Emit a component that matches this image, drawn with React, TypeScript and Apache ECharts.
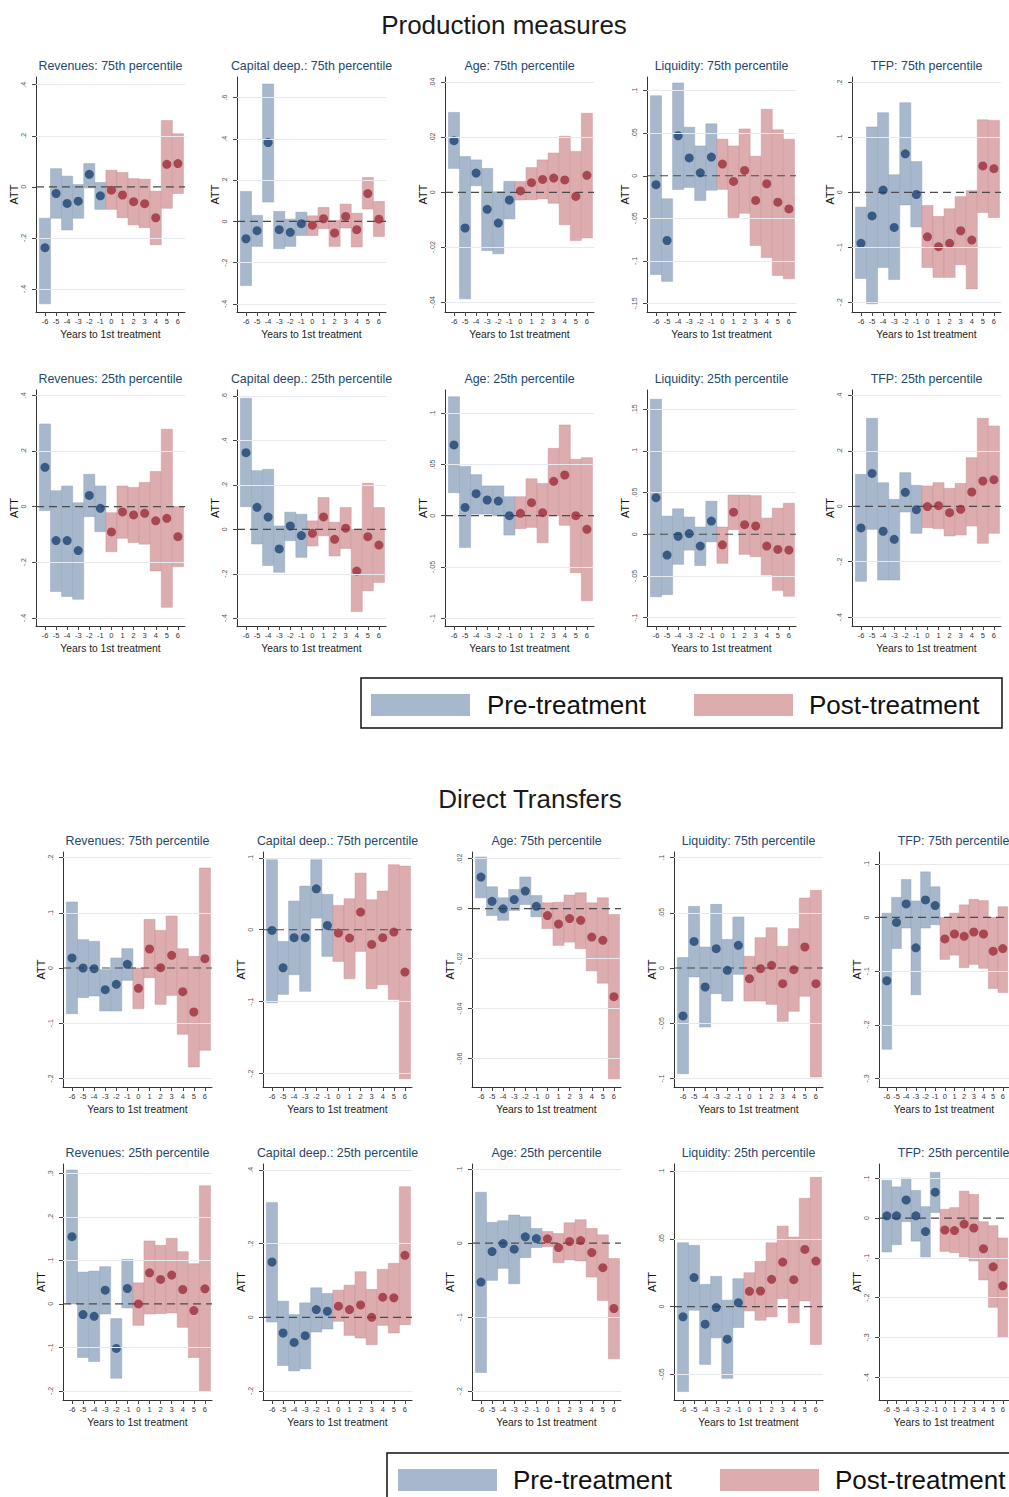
import React, { useEffect, useRef } from "react";
import * as echarts from "echarts";

// ---------- data ----------
const YEARS = [-6, -5, -4, -3, -2, -1, 0, 1, 2, 3, 4, 5, 6];

// Production measures
const PM_REV75_EST = [-0.238, -0.026, -0.065, -0.056, 0.049, -0.035, -0.013, -0.032, -0.058, -0.066, -0.121, 0.088, 0.091];
const PM_REV75_LO = [-0.458, -0.123, -0.169, -0.123, -0.004, -0.088, -0.088, -0.121, -0.149, -0.16, -0.227, -0.084, -0.026];
const PM_REV75_HI = [-0.123, 0.071, 0.042, 0.009, 0.091, 0.017, 0.065, 0.056, 0.032, 0.03, -0.017, 0.26, 0.208];
const PM_REV75_TICKS = [-0.4, -0.2, 0, 0.2, 0.4];
const PM_REV75_RANGE = [-0.49, 0.43];

const PM_CAP75_EST = [-0.084, -0.045, 0.382, -0.04, -0.053, -0.011, -0.018, 0.013, -0.056, 0.024, -0.04, 0.135, 0.011];
const PM_CAP75_LO = [-0.311, -0.121, 0.094, -0.132, -0.121, -0.068, -0.068, -0.035, -0.121, -0.032, -0.124, 0.06, -0.073];
const PM_CAP75_HI = [0.145, 0.029, 0.666, 0.048, 0.011, 0.045, 0.027, 0.068, 0.005, 0.084, 0.04, 0.213, 0.097];
const PM_CAP75_TICKS = [-0.4, -0.2, 0, 0.2, 0.4, 0.6];
const PM_CAP75_RANGE = [-0.439, 0.7];

const PM_AGE75_EST = [0.0188, -0.013, 0.007, -0.0062, -0.0112, -0.0028, 0.0005, 0.0035, 0.0047, 0.0052, 0.0045, -0.0015, 0.0062];
const PM_AGE75_LO = [0.0087, -0.0388, 0.0024, -0.0212, -0.0224, -0.0097, -0.0028, -0.0027, -0.0024, -0.004, -0.0118, -0.0176, -0.0166];
const PM_AGE75_HI = [0.0291, 0.013, 0.0118, 0.0087, 0.0002, 0.004, 0.0039, 0.009, 0.0118, 0.0143, 0.0204, 0.0149, 0.0288];
const PM_AGE75_TICKS = [-0.04, -0.02, 0, 0.02, 0.04];
const PM_AGE75_RANGE = [-0.0436, 0.042];

const PM_LIQ75_EST = [-0.0105, -0.076, 0.047, 0.021, 0.0035, 0.022, 0.0137, -0.0066, 0.0063, -0.029, -0.0094, -0.031, -0.039];
const PM_LIQ75_LO = [-0.116, -0.124, -0.016, -0.0137, -0.029, -0.017, -0.016, -0.049, -0.044, -0.082, -0.096, -0.117, -0.121];
const PM_LIQ75_HI = [0.094, -0.027, 0.109, 0.057, 0.035, 0.061, 0.043, 0.035, 0.055, 0.023, 0.078, 0.054, 0.043];
const PM_LIQ75_TICKS = [-0.15, -0.1, -0.05, 0, 0.05, 0.1];
const PM_LIQ75_RANGE = [-0.16, 0.116];

const PM_TFP75_EST = [-0.093, -0.043, 0.004, -0.064, 0.07, -0.004, -0.081, -0.099, -0.093, -0.07, -0.087, 0.048, 0.043];
const PM_TFP75_LO = [-0.157, -0.203, -0.137, -0.159, -0.023, -0.063, -0.137, -0.155, -0.155, -0.132, -0.176, -0.037, -0.046];
const PM_TFP75_HI = [-0.027, 0.119, 0.145, 0.032, 0.163, 0.056, -0.024, -0.044, -0.03, -0.008, 0.003, 0.132, 0.131];
const PM_TFP75_TICKS = [-0.2, -0.1, 0, 0.1, 0.2];
const PM_TFP75_RANGE = [-0.218, 0.21];

const PM_REV25_EST = [0.141, -0.122, -0.122, -0.158, 0.04, -0.006, -0.091, -0.019, -0.03, -0.024, -0.051, -0.042, -0.108];
const PM_REV25_LO = [-0.014, -0.305, -0.323, -0.333, -0.036, -0.09, -0.162, -0.114, -0.129, -0.135, -0.231, -0.362, -0.216];
const PM_REV25_HI = [0.297, 0.057, 0.074, 0.014, 0.116, 0.074, -0.022, 0.074, 0.069, 0.087, 0.126, 0.278, 0.0];
const PM_REV25_TICKS = [-0.4, -0.2, 0, 0.2, 0.4];
const PM_REV25_RANGE = [-0.429, 0.419];

const PM_CAP25_EST = [0.345, 0.099, 0.055, -0.088, 0.015, -0.028, -0.018, 0.056, -0.045, 0.005, -0.188, -0.033, -0.071];
const PM_CAP25_LO = [0.102, -0.066, -0.163, -0.193, -0.051, -0.126, -0.075, -0.029, -0.12, -0.086, -0.37, -0.276, -0.239];
const PM_CAP25_HI = [0.59, 0.264, 0.27, 0.015, 0.077, 0.068, 0.038, 0.143, 0.032, 0.098, 0.0, 0.207, 0.098];
const PM_CAP25_TICKS = [-0.4, -0.2, 0, 0.2, 0.4, 0.6];
const PM_CAP25_RANGE = [-0.435, 0.627];

const PM_AGE25_EST = [0.069, 0.0081, 0.0215, 0.0153, 0.0143, 0.0, 0.0023, 0.0127, 0.0029, 0.0335, 0.0397, 0.0, -0.0133];
const PM_AGE25_LO = [0.0224, -0.031, 0.0016, 0.0016, 0.0, -0.0189, -0.0127, -0.0114, -0.0263, 0.0, -0.0094, -0.0556, -0.0829];
const PM_AGE25_HI = [0.116, 0.048, 0.04, 0.029, 0.029, 0.0185, 0.0185, 0.036, 0.0315, 0.0657, 0.0885, 0.055, 0.0566];
const PM_AGE25_TICKS = [-0.1, -0.05, 0, 0.05, 0.1];
const PM_AGE25_RANGE = [-0.1076, 0.1226];

const PM_LIQ25_EST = [0.0439, -0.0249, -0.0024, 0.0008, -0.0142, 0.0158, -0.0127, 0.0265, 0.0115, 0.0099, -0.0142, -0.0182, -0.019];
const PM_LIQ25_LO = [-0.075, -0.0724, -0.036, -0.019, -0.0376, -0.0091, -0.0348, 0.0055, -0.0241, -0.0269, -0.0487, -0.0672, -0.0744];
const PM_LIQ25_HI = [0.162, 0.0218, 0.0305, 0.0206, 0.0087, 0.0396, 0.0087, 0.047, 0.047, 0.0463, 0.0194, 0.0313, 0.0372];
const PM_LIQ25_TICKS = [-0.1, -0.05, 0, 0.05, 0.1, 0.15];
const PM_LIQ25_RANGE = [-0.11, 0.173];

const PM_TFP25_EST = [-0.078, 0.119, -0.09, -0.119, 0.0505, -0.012, -0.001, 0.0024, -0.0229, -0.0108, 0.0517, 0.0915, 0.0963];
const PM_TFP25_LO = [-0.2708, -0.083, -0.266, -0.266, -0.0205, -0.0975, -0.077, -0.0806, -0.107, -0.1035, -0.071, -0.1336, -0.0975];
const PM_TFP25_HI = [0.1155, 0.3177, 0.0854, 0.0253, 0.1215, 0.0758, 0.0734, 0.0854, 0.065, 0.083, 0.1757, 0.3177, 0.29];
const PM_TFP25_TICKS = [-0.4, -0.2, 0, 0.2, 0.4];
const PM_TFP25_RANGE = [-0.432, 0.42];

// Direct transfers
const DT_REV75_EST = [0.0181, 0.0, -0.0012, -0.0392, -0.0296, 0.0066, -0.0368, 0.0344, 0.0006, 0.0229, -0.0428, -0.0796, 0.0169];
const DT_REV75_LO = [-0.0827, -0.0537, -0.0507, -0.0778, -0.0778, -0.0223, -0.0736, -0.0175, -0.0658, -0.0495, -0.12, -0.1792, -0.149];
const DT_REV75_HI = [0.1195, 0.0513, 0.0483, -0.003, 0.0181, 0.035, 0.0, 0.0881, 0.0682, 0.0941, 0.035, 0.0211, 0.181];
const DT_REV75_TICKS = [-0.2, -0.1, 0, 0.1, 0.2];
const DT_REV75_RANGE = [-0.2154, 0.21];

const DT_CAP75_EST = [-0.0009, -0.0528, -0.0111, -0.0111, 0.0569, 0.006, -0.0046, -0.0116, 0.0245, -0.0204, -0.0111, -0.0032, -0.0588];
const DT_CAP75_LO = [-0.1014, -0.0898, -0.0625, -0.0856, 0.0162, -0.037, -0.044, -0.068, -0.0301, -0.0819, -0.0764, -0.0968, -0.207];
const DT_CAP75_HI = [0.0972, -0.0162, 0.0398, 0.0606, 0.0972, 0.0491, 0.0338, 0.043, 0.0787, 0.0417, 0.0537, 0.0903, 0.0884];
const DT_CAP75_TICKS = [-0.2, -0.1, 0, 0.1];
const DT_CAP75_RANGE = [-0.2185, 0.108];

const DT_AGE75_EST = [0.0126, 0.0029, -0.0001, 0.0036, 0.007, 0.0009, -0.0028, -0.0062, -0.004, -0.0047, -0.0114, -0.0127, -0.0352];
const DT_AGE75_LO = [0.0043, -0.0028, -0.0047, -0.0008, 0.0016, -0.0033, -0.008, -0.0147, -0.0134, -0.016, -0.0249, -0.0298, -0.068];
const DT_AGE75_HI = [0.0206, 0.0087, 0.0043, 0.0076, 0.0126, 0.0052, 0.0023, 0.0025, 0.0054, 0.0063, 0.0023, 0.0043, -0.0024];
const DT_AGE75_TICKS = [-0.06, -0.04, -0.02, 0, 0.02];
const DT_AGE75_RANGE = [-0.0713, 0.0226];

const DT_LIQ75_EST = [-0.0434, 0.0241, -0.0172, 0.0175, -0.0021, 0.0205, -0.0097, -0.0006, 0.0024, -0.0142, -0.0015, 0.019, -0.0142];
const DT_LIQ75_LO = [-0.0956, -0.0081, -0.0534, -0.0232, -0.0299, -0.0057, -0.0299, -0.0299, -0.0329, -0.0483, -0.0392, -0.0256, -0.0986];
const DT_LIQ75_HI = [0.0094, 0.0558, 0.019, 0.0576, 0.0259, 0.0462, 0.0106, 0.0275, 0.0365, 0.0196, 0.0356, 0.0633, 0.0703];
const DT_LIQ75_TICKS = [-0.1, -0.05, 0, 0.05, 0.1];
const DT_LIQ75_RANGE = [-0.1077, 0.105];

const DT_TFP75_EST = [-0.118, -0.0092, 0.0252, -0.0566, 0.0326, 0.0222, -0.04, -0.0308, -0.0351, -0.0271, -0.0308, -0.0628, -0.058];
const DT_TFP75_LO = [-0.2455, -0.0578, -0.0197, -0.144, -0.0197, -0.0135, -0.0782, -0.0702, -0.0935, -0.0874, -0.0948, -0.1323, -0.14];
const DT_TFP75_HI = [0.008, 0.0375, 0.0708, 0.0308, 0.0849, 0.0572, 0.0, 0.008, 0.0234, 0.0338, 0.0314, 0.0, 0.02];
const DT_TFP75_TICKS = [-0.3, -0.2, -0.1, 0, 0.1];
const DT_TFP75_RANGE = [-0.316, 0.122];

const DT_REV25_EST = [0.1546, -0.0246, -0.0285, 0.0315, -0.1023, 0.0354, 0.0, 0.0715, 0.0562, 0.0662, 0.0331, -0.0154, 0.0346];
const DT_REV25_LO = [0.0, -0.1231, -0.1323, -0.0231, -0.1708, -0.0092, -0.0492, -0.0231, -0.0223, -0.0208, -0.0538, -0.1231, -0.2015];
const DT_REV25_HI = [0.3077, 0.0731, 0.0754, 0.0854, -0.0338, 0.1023, 0.0485, 0.1446, 0.1346, 0.1508, 0.12, 0.0923, 0.2715];
const DT_REV25_TICKS = [-0.2, -0.1, 0, 0.1, 0.2, 0.3];
const DT_REV25_RANGE = [-0.2208, 0.3215];

const DT_CAP25_EST = [0.15, -0.0427, -0.0682, -0.05, 0.0209, 0.0164, 0.03, 0.0209, 0.0336, 0.0, 0.0545, 0.0527, 0.1682];
const DT_CAP25_LO = [-0.0127, -0.131, -0.1455, -0.14, -0.04, -0.0318, -0.0109, -0.0491, -0.0564, -0.0745, -0.0218, -0.0427, -0.02];
const DT_CAP25_HI = [0.3118, 0.0436, 0.0073, 0.039, 0.08, 0.0645, 0.0736, 0.0873, 0.1236, 0.0755, 0.13, 0.1464, 0.3545];
const DT_CAP25_TICKS = [-0.2, 0, 0.2, 0.4];
const DT_CAP25_RANGE = [-0.2245, 0.416];

const DT_AGE25_EST = [-0.0525, -0.0113, -0.0005, -0.0081, 0.0086, 0.0063, 0.0059, -0.0059, 0.0023, 0.0036, -0.0127, -0.033, -0.0882];
const DT_AGE25_LO = [-0.1747, -0.0502, -0.0339, -0.0548, -0.0195, -0.0059, -0.0045, -0.0262, -0.0226, -0.024, -0.0457, -0.0774, -0.1561];
const DT_AGE25_HI = [0.0688, 0.0281, 0.0303, 0.038, 0.0357, 0.0199, 0.0158, 0.0131, 0.0276, 0.0317, 0.0199, 0.0113, -0.0208];
const DT_AGE25_TICKS = [-0.2, -0.1, 0, 0.1];
const DT_AGE25_RANGE = [-0.2118, 0.107];

const DT_LIQ25_EST = [-0.0076, 0.0214, -0.013, -0.0007, -0.0241, 0.0029, 0.0113, 0.0115, 0.0201, 0.0329, 0.0199, 0.0422, 0.0336];
const DT_LIQ25_LO = [-0.0628, -0.0027, -0.0427, -0.0231, -0.053, -0.0155, -0.0032, -0.0101, -0.0076, 0.0059, -0.012, 0.0042, -0.028];
const DT_LIQ25_HI = [0.0471, 0.0452, 0.0164, 0.0223, 0.0047, 0.0206, 0.025, 0.0334, 0.0471, 0.0594, 0.0513, 0.08, 0.0955];
const DT_LIQ25_TICKS = [-0.05, 0, 0.05, 0.1];
const DT_LIQ25_RANGE = [-0.069, 0.1053];

const DT_TFP25_EST = [0.0058, 0.0058, 0.0455, 0.0058, -0.0339, 0.0653, -0.0298, -0.0314, -0.0149, -0.0248, -0.0769, -0.1223, -0.17];
const DT_TFP25_LO = [-0.0851, -0.0669, -0.0091, -0.0579, -0.0975, 0.014, -0.0835, -0.0868, -0.0975, -0.1074, -0.1554, -0.224, -0.3];
const DT_TFP25_HI = [0.095, 0.0785, 0.1008, 0.0694, 0.0289, 0.1149, 0.0223, 0.0264, 0.0678, 0.0595, -0.0091, -0.019, -0.05];
const DT_TFP25_TICKS = [-0.4, -0.3, -0.2, -0.1, 0, 0.1];
const DT_TFP25_RANGE = [-0.457, 0.136];

const SECTION_TITLES = ["Production measures", "Direct Transfers"];
const LEGEND_LABELS = ["Pre-treatment", "Post-treatment"];
const X_TITLE = "Years to 1st treatment";
const Y_TITLE = "ATT";

// ---------- panel list (section, row, col) ----------
const PANELS = [
  { s: 0, r: 0, c: 0, title: "Revenues: 75th percentile", est: PM_REV75_EST, lo: PM_REV75_LO, hi: PM_REV75_HI, ticks: PM_REV75_TICKS, range: PM_REV75_RANGE },
  { s: 0, r: 0, c: 1, title: "Capital deep.: 75th percentile", est: PM_CAP75_EST, lo: PM_CAP75_LO, hi: PM_CAP75_HI, ticks: PM_CAP75_TICKS, range: PM_CAP75_RANGE },
  { s: 0, r: 0, c: 2, title: "Age: 75th percentile", est: PM_AGE75_EST, lo: PM_AGE75_LO, hi: PM_AGE75_HI, ticks: PM_AGE75_TICKS, range: PM_AGE75_RANGE },
  { s: 0, r: 0, c: 3, title: "Liquidity: 75th percentile", est: PM_LIQ75_EST, lo: PM_LIQ75_LO, hi: PM_LIQ75_HI, ticks: PM_LIQ75_TICKS, range: PM_LIQ75_RANGE },
  { s: 0, r: 0, c: 4, title: "TFP: 75th percentile", est: PM_TFP75_EST, lo: PM_TFP75_LO, hi: PM_TFP75_HI, ticks: PM_TFP75_TICKS, range: PM_TFP75_RANGE },
  { s: 0, r: 1, c: 0, title: "Revenues: 25th percentile", est: PM_REV25_EST, lo: PM_REV25_LO, hi: PM_REV25_HI, ticks: PM_REV25_TICKS, range: PM_REV25_RANGE },
  { s: 0, r: 1, c: 1, title: "Capital deep.: 25th percentile", est: PM_CAP25_EST, lo: PM_CAP25_LO, hi: PM_CAP25_HI, ticks: PM_CAP25_TICKS, range: PM_CAP25_RANGE },
  { s: 0, r: 1, c: 2, title: "Age: 25th percentile", est: PM_AGE25_EST, lo: PM_AGE25_LO, hi: PM_AGE25_HI, ticks: PM_AGE25_TICKS, range: PM_AGE25_RANGE },
  { s: 0, r: 1, c: 3, title: "Liquidity: 25th percentile", est: PM_LIQ25_EST, lo: PM_LIQ25_LO, hi: PM_LIQ25_HI, ticks: PM_LIQ25_TICKS, range: PM_LIQ25_RANGE },
  { s: 0, r: 1, c: 4, title: "TFP: 25th percentile", est: PM_TFP25_EST, lo: PM_TFP25_LO, hi: PM_TFP25_HI, ticks: PM_TFP25_TICKS, range: PM_TFP25_RANGE },
  { s: 1, r: 0, c: 0, title: "Revenues: 75th percentile", est: DT_REV75_EST, lo: DT_REV75_LO, hi: DT_REV75_HI, ticks: DT_REV75_TICKS, range: DT_REV75_RANGE },
  { s: 1, r: 0, c: 1, title: "Capital deep.: 75th percentile", est: DT_CAP75_EST, lo: DT_CAP75_LO, hi: DT_CAP75_HI, ticks: DT_CAP75_TICKS, range: DT_CAP75_RANGE },
  { s: 1, r: 0, c: 2, title: "Age: 75th percentile", est: DT_AGE75_EST, lo: DT_AGE75_LO, hi: DT_AGE75_HI, ticks: DT_AGE75_TICKS, range: DT_AGE75_RANGE },
  { s: 1, r: 0, c: 3, title: "Liquidity: 75th percentile", est: DT_LIQ75_EST, lo: DT_LIQ75_LO, hi: DT_LIQ75_HI, ticks: DT_LIQ75_TICKS, range: DT_LIQ75_RANGE },
  { s: 1, r: 0, c: 4, title: "TFP: 75th percentile", est: DT_TFP75_EST, lo: DT_TFP75_LO, hi: DT_TFP75_HI, ticks: DT_TFP75_TICKS, range: DT_TFP75_RANGE },
  { s: 1, r: 1, c: 0, title: "Revenues: 25th percentile", est: DT_REV25_EST, lo: DT_REV25_LO, hi: DT_REV25_HI, ticks: DT_REV25_TICKS, range: DT_REV25_RANGE },
  { s: 1, r: 1, c: 1, title: "Capital deep.: 25th percentile", est: DT_CAP25_EST, lo: DT_CAP25_LO, hi: DT_CAP25_HI, ticks: DT_CAP25_TICKS, range: DT_CAP25_RANGE },
  { s: 1, r: 1, c: 2, title: "Age: 25th percentile", est: DT_AGE25_EST, lo: DT_AGE25_LO, hi: DT_AGE25_HI, ticks: DT_AGE25_TICKS, range: DT_AGE25_RANGE },
  { s: 1, r: 1, c: 3, title: "Liquidity: 25th percentile", est: DT_LIQ25_EST, lo: DT_LIQ25_LO, hi: DT_LIQ25_HI, ticks: DT_LIQ25_TICKS, range: DT_LIQ25_RANGE },
  { s: 1, r: 1, c: 4, title: "TFP: 25th percentile", est: DT_TFP25_EST, lo: DT_TFP25_LO, hi: DT_TFP25_HI, ticks: DT_TFP25_TICKS, range: DT_TFP25_RANGE },
];

// ---------- layout & style ----------
const COL_X = [
  [36, 237, 445, 647, 852],
  [63, 263, 472, 674, 879],
];
const ROW_TOP = [
  [77, 390],
  [852, 1164],
];
const ROW_BOTTOM = [
  [312, 626],
  [1087, 1400],
];
const PLOT_W = 149;
const X_MIN = -6.81;
const X_MAX = 6.64;

const FONT = "'Liberation Sans', Arial, Helvetica, sans-serif";
const PRE_BAR = "rgba(167,184,204,1)";
const POST_BAR = "rgba(220,172,175,1)";
const PRE_EDGE = "rgba(140,160,185,0.9)";
const POST_EDGE = "rgba(200,145,150,0.9)";
const PRE_DOT = "#1d4270";
const POST_DOT = "#9b2d3b";
const TITLE_COLOR = "#24476b";

function stataFmt(v: number): string {
  if (Math.abs(v) < 1e-9) return "0";
  const s = parseFloat(v.toFixed(4)).toString();
  return s.replace(/^(-?)0\./, "$1.");
}

function buildOption() {
  const grid: any[] = [];
  const xAxis: any[] = [];
  const yAxis: any[] = [];
  const series: any[] = [];
  const graphic: any[] = [];

  PANELS.forEach((p, i) => {
    const left = COL_X[p.s][p.c];
    const top = ROW_TOP[p.s][p.r];
    const bottom = ROW_BOTTOM[p.s][p.r];
    grid.push({ left, top, width: PLOT_W, height: bottom - top, containLabel: false });

    xAxis.push({
      type: "value",
      gridIndex: i,
      min: X_MIN,
      max: X_MAX,
      axisLine: { show: true, onZero: false, lineStyle: { color: "#333", width: 1 } },
      axisTick: { show: true, customValues: YEARS, length: 4, lineStyle: { color: "#444" } },
      axisLabel: {
        show: true,
        customValues: YEARS,
        fontSize: 7.5,
        color: "#333",
        fontFamily: FONT,
        margin: 5,
        formatter: (v: number) => String(v),
      },
      splitLine: { show: false },
      name: X_TITLE,
      nameLocation: "middle",
      nameGap: 17,
      nameTextStyle: { fontSize: 10.3, color: "#222", fontFamily: FONT },
    });

    yAxis.push({
      type: "value",
      gridIndex: i,
      min: p.range[0],
      max: p.range[1],
      axisLine: { show: true, onZero: false, lineStyle: { color: "#333", width: 1 } },
      axisTick: { show: true, customValues: p.ticks, length: 4, lineStyle: { color: "#444" } },
      axisLabel: {
        show: true,
        customValues: p.ticks,
        rotate: 90,
        fontSize: 7,
        color: "#555",
        fontFamily: FONT,
        margin: 9,
        formatter: (v: number) => stataFmt(v),
      },
      splitLine: { show: false },
      name: Y_TITLE,
      nameLocation: "middle",
      nameRotate: 90,
      nameGap: 9,
      nameTextStyle: { fontSize: 11, color: "#111", fontFamily: FONT },
    });

    // faint grid lines
    series.push({
      type: "line",
      xAxisIndex: i,
      yAxisIndex: i,
      data: [],
      silent: true,
      z: 1,
      markLine: {
        silent: true,
        symbol: ["none", "none"],
        label: { show: false },
        lineStyle: { color: "#e6eaee", width: 1, type: "solid" },
        data: p.ticks.filter((t) => Math.abs(t) > 1e-9).map((t) => ({ yAxis: t })),
      },
    });

    // confidence interval bars
    series.push({
      type: "custom",
      xAxisIndex: i,
      yAxisIndex: i,
      silent: true,
      z: 2,
      encode: { x: 0, y: [1, 2] },
      data: YEARS.map((yr, k) => [yr, p.lo[k], p.hi[k]]),
      renderItem: (params: any, api: any) => {
        const x = api.value(0);
        const lo = api.value(1);
        const hi = api.value(2);
        const a = api.coord([x - 0.5, hi]);
        const b = api.coord([x + 0.5, lo]);
        const pre = x < 0;
        return {
          type: "rect",
          shape: { x: a[0], y: a[1], width: b[0] - a[0], height: b[1] - a[1] },
          style: { fill: pre ? PRE_BAR : POST_BAR, stroke: pre ? PRE_EDGE : POST_EDGE, lineWidth: 0.5 },
        };
      },
    });

    // zero reference line
    series.push({
      type: "line",
      xAxisIndex: i,
      yAxisIndex: i,
      silent: true,
      z: 3,
      symbol: "none",
      data: [
        [X_MIN, 0],
        [X_MAX, 0],
      ],
      lineStyle: { color: "#4a4a4a", width: 1.2, type: [8, 5] },
    });

    // point estimates
    series.push({
      type: "scatter",
      xAxisIndex: i,
      yAxisIndex: i,
      silent: true,
      z: 4,
      symbol: "circle",
      symbolSize: 9,
      data: YEARS.map((yr, k) => [yr, p.est[k]]),
      itemStyle: { color: (prm: any) => (prm.value[0] < 0 ? PRE_DOT : POST_DOT) },
    });

    graphic.push({
      type: "text",
      x: left + PLOT_W / 2,
      y: top - 11,
      style: {
        text: p.title,
        fill: TITLE_COLOR,
        fontSize: 12.4,
        fontFamily: FONT,
        align: "center",
        verticalAlign: "middle",
      },
    });
  });

  // section titles
  graphic.push({
    type: "text",
    x: 504,
    y: 25,
    style: { text: SECTION_TITLES[0], fill: "#1a1a1a", fontSize: 26, fontFamily: FONT, align: "center", verticalAlign: "middle" },
  });
  graphic.push({
    type: "text",
    x: 530,
    y: 799,
    style: { text: SECTION_TITLES[1], fill: "#1a1a1a", fontSize: 26, fontFamily: FONT, align: "center", verticalAlign: "middle" },
  });

  // legends
  const legends = [
    { bx: 361, by: 678, bw: 641, bh: 50, sw: [371, 694], sw2: [694, 694], t1: [487, 705], t2: [809, 705] },
    { bx: 387, by: 1453, bw: 640, bh: 60, sw: [398, 1469], sw2: [720, 1469], t1: [513, 1480], t2: [835, 1480] },
  ];
  legends.forEach((L) => {
    graphic.push({
      type: "rect",
      shape: { x: L.bx, y: L.by, width: L.bw, height: L.bh },
      style: { fill: "#fff", stroke: "#111", lineWidth: 1.5 },
      z: 10,
    });
    graphic.push({ type: "rect", shape: { x: L.sw[0], y: L.sw[1], width: 99, height: 22 }, style: { fill: PRE_BAR }, z: 11 });
    graphic.push({ type: "rect", shape: { x: L.sw2[0], y: L.sw2[1], width: 99, height: 22 }, style: { fill: POST_BAR }, z: 11 });
    graphic.push({
      type: "text",
      x: L.t1[0],
      y: L.t1[1],
      z: 11,
      style: { text: LEGEND_LABELS[0], fill: "#111", fontSize: 26, fontFamily: FONT, align: "left", verticalAlign: "middle" },
    });
    graphic.push({
      type: "text",
      x: L.t2[0],
      y: L.t2[1],
      z: 11,
      style: { text: LEGEND_LABELS[1], fill: "#111", fontSize: 26, fontFamily: FONT, align: "left", verticalAlign: "middle" },
    });
  });

  return {
    animation: false,
    backgroundColor: "#ffffff",
    grid,
    xAxis,
    yAxis,
    series,
    graphic,
  };
}

export default function App() {
  const ref = useRef<HTMLDivElement>(null);
  useEffect(() => {
    document.body.style.margin = "0";
    const chart = echarts.init(ref.current as HTMLDivElement, null, { renderer: "svg" });
    chart.setOption(buildOption() as any);
    return () => chart.dispose();
  }, []);
  return <div ref={ref} style={{ width: 1009, height: 1497, overflow: "hidden" }} />;
}
